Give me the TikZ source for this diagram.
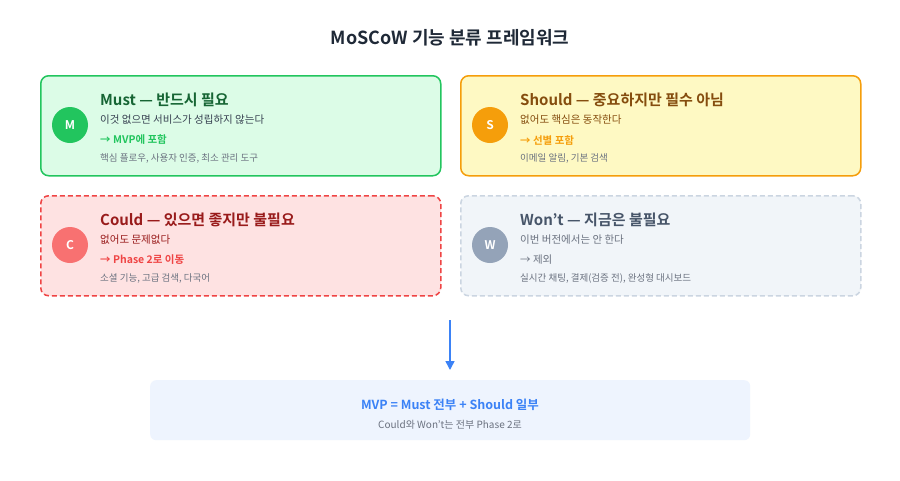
\documentclass[tikz,border=0pt]{standalone}
\usepackage{fontspec}
\setmainfont{Noto Sans CJK KR}[BoldFont={Noto Sans CJK KR Bold}]
\usetikzlibrary{arrows.meta}
\definecolor{mG}{HTML}{22C55E}\definecolor{mGf}{HTML}{DCFCE7}\definecolor{mGt}{HTML}{166534}
\definecolor{sY}{HTML}{F59E0B}\definecolor{sYf}{HTML}{FEF9C3}\definecolor{sYt}{HTML}{854D0E}
\definecolor{cR}{HTML}{EF4444}\definecolor{cRf}{HTML}{FEE2E2}\definecolor{cRt}{HTML}{991B1B}\definecolor{cRc}{HTML}{F87171}
\definecolor{wS}{HTML}{CBD5E1}\definecolor{wSf}{HTML}{F1F5F9}\definecolor{wSt}{HTML}{475569}\definecolor{wSc}{HTML}{94A3B8}
\definecolor{txt}{HTML}{374151}\definecolor{gry}{HTML}{6B7280}\definecolor{blu}{HTML}{3B82F6}\definecolor{bluf}{HTML}{EEF4FE}
\definecolor{ttl}{HTML}{1F2937}
\begin{document}
\begin{tikzpicture}[x=1pt,y=-1pt,
 card/.style={rounded corners=8pt,line width=1.5pt,minimum width=400pt,minimum height=100pt,anchor=north west},
 badge/.style={circle,minimum size=36pt,inner sep=0pt,text=white,font=\bfseries\fontsize{12}{12}\selectfont},
 ttxt/.style={anchor=west,inner sep=0pt,font=\bfseries\fontsize{15}{15}\selectfont},
 stxt/.style={anchor=west,inner sep=0pt,font=\fontsize{10.5}{11}\selectfont},
 atxt/.style={anchor=west,inner sep=0pt,font=\bfseries\fontsize{10.5}{11}\selectfont},
 gtxt/.style={anchor=west,inner sep=0pt,text=gry,font=\fontsize{9.5}{10}\selectfont}]
\useasboundingbox[fill=white] (0,0) rectangle (900,480);
\node[font=\bfseries\fontsize{18}{18}\selectfont,text=ttl] (title) at (450,38) {MoSCoW 기능 분류 프레임워크};
% Must
\node[card,draw=mG,fill=mGf] (must) at (40,75) {};
\node[badge,fill=mG] (mb) at (70,125) {M};
\node[ttxt,text=mGt] (mt) at (100,100) {Must — 반드시 필요};
\node[stxt,text=txt] (m2) at (100,120) {이것 없으면 서비스가 성립하지 않는다};
\node[atxt,text=mG] (m3) at (100,140) {→ MVP에 포함};
\node[gtxt] (m4) at (100,158) {핵심 플로우, 사용자 인증, 최소 관리 도구};
% Should
\node[card,draw=sY,fill=sYf] (should) at (460,75) {};
\node[badge,fill=sY] (sb) at (490,125) {S};
\node[ttxt,text=sYt] (st) at (520,100) {Should — 중요하지만 필수 아님};
\node[stxt,text=sYt] (s2) at (520,120) {없어도 핵심은 동작한다};
\node[atxt,text=sY] (s3) at (520,140) {→ 선별 포함};
\node[gtxt] (s4) at (520,158) {이메일 알림, 기본 검색};
% Could
\node[card,draw=cR,fill=cRf,dashed,dash pattern=on 5pt off 3pt] (could) at (40,195) {};
\node[badge,fill=cRc] (cb) at (70,245) {C};
\node[ttxt,text=cRt] (ct) at (100,220) {Could — 있으면 좋지만 불필요};
\node[stxt,text=cRt] (c2) at (100,240) {없어도 문제없다};
\node[atxt,text=cR] (c3) at (100,260) {→ Phase 2로 이동};
\node[gtxt] (c4) at (100,278) {소셜 기능, 고급 검색, 다국어};
% Won't
\node[card,draw=wS,fill=wSf,dash pattern=on 5pt off 3pt] (wont) at (460,195) {};
\node[badge,fill=wSc] (wb) at (490,245) {W};
\node[ttxt,text=wSt] (wt) at (520,220) {Won't — 지금은 불필요};
\node[stxt,text=gry] (w2) at (520,240) {이번 버전에서는 안 한다};
\node[stxt,text=gry] (w3) at (520,260) {→ 제외};
\node[gtxt] (w4) at (520,278) {실시간 채팅, 결제(검증 전), 완성형 대시보드};
% arrow & summary
\coordinate (a1) at (450,320);
\node[rounded corners=6pt,fill=bluf,minimum width=600pt,minimum height=60pt,anchor=north west] (mvp) at (150,380) {};
\draw[blu,line width=1.5pt,-{Triangle[length=9pt,width=9pt]}] (a1) -- (450,370);
\node[font=\bfseries\fontsize{12.5}{13}\selectfont,text=blu] (mv1) at (450,405) {MVP = Must 전부 + Should 일부};
\node[font=\fontsize{10}{11}\selectfont,text=gry] (mv2) at (450,425) {Could와 Won't는 전부 Phase 2로};
\end{tikzpicture}
\end{document}
